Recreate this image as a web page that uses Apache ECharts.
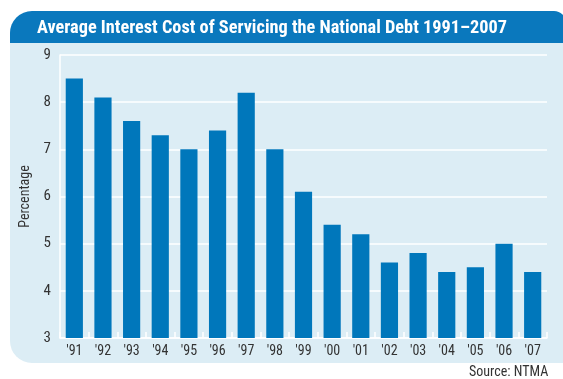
<!DOCTYPE html>
<html>
<head>
<meta charset="utf-8">
<script src="https://cdn.jsdelivr.net/npm/echarts@6/dist/echarts.min.js"></script>
<style>
  html, body { margin: 0; padding: 0; background: #ffffff; }
  #chart { width: 563px; height: 379px; }
</style>
</head>
<body>
<div id="chart"></div>
<script>
// Fiscal years shown along the bottom axis
const years = ["'91", "'92", "'93", "'94", "'95", "'96", "'97", "'98", "'99", "'00", "'01", "'02", "'03", "'04", "'05", "'06", "'07"];
// Average interest cost (%) for each year
const interestCost = [8.5, 8.1, 7.6, 7.3, 7.0, 7.4, 8.2, 7.0, 6.1, 5.4, 5.2, 4.6, 4.8, 4.4, 4.5, 5.0, 4.4];
// Value axis range
const yMin = 3, yMax = 9, yStep = 1;

const titleText = 'Average Interest Cost of Servicing the National Debt 1991\u20132007';
const sourceText = 'Source: NTMA';
const narrow = '"Liberation Sans Narrow", "Roboto Condensed", "DejaVu Sans Condensed", sans-serif';

const chart = echarts.init(document.getElementById('chart'), null, { renderer: 'canvas' });
chart.setOption({
  animation: false,
  backgroundColor: '#ffffff',
  graphic: [
    { type: 'rect', z: -10, silent: true,
      shape: { x: 10, y: 11, width: 556, height: 34, r: [22, 12, 0, 0] },
      style: { fill: '#0a78bd' } },
    { type: 'rect', z: -10, silent: true,
      shape: { x: 10, y: 43, width: 556, height: 320, r: [0, 0, 0, 22] },
      style: { fill: '#dcedf5' } },
    { type: 'text', z: 10, silent: true, left: 37, top: 19,
      style: { text: titleText, fill: '#ffffff', font: 'bold 18.3px ' + narrow } },
    { type: 'text', z: 10, silent: true, left: 469, top: 365,
      style: { text: sourceText, fill: '#333333', font: '14px ' + narrow } }
  ],
  grid: { left: 60, right: 16, top: 55, bottom: 41, containLabel: false },
  xAxis: {
    type: 'category',
    data: years,
    axisLine: { show: true, lineStyle: { color: '#ffffff', width: 1.5 } },
    axisTick: { show: true, inside: true, length: 6, lineStyle: { color: '#ffffff', width: 1.5 } },
    axisLabel: { color: '#333333', fontSize: 14, fontFamily: narrow, margin: 6 }
  },
  yAxis: {
    type: 'value',
    min: yMin, max: yMax, interval: yStep,
    name: 'Percentage',
    nameLocation: 'middle',
    nameGap: 28,
    nameRotate: 90,
    nameTextStyle: { color: '#333333', fontSize: 14, fontFamily: narrow },
    axisLine: { show: true, lineStyle: { color: '#ffffff', width: 1.5 } },
    axisTick: { show: false },
    axisLabel: { color: '#333333', fontSize: 15, fontFamily: narrow, margin: 9 },
    splitLine: { show: true, lineStyle: { color: '#ffffff', width: 1.5 } }
  },
  series: [{
    type: 'bar',
    data: interestCost,
    barWidth: '60%',
    itemStyle: { color: '#0077bb' }
  }]
});
</script>
</body>
</html>
